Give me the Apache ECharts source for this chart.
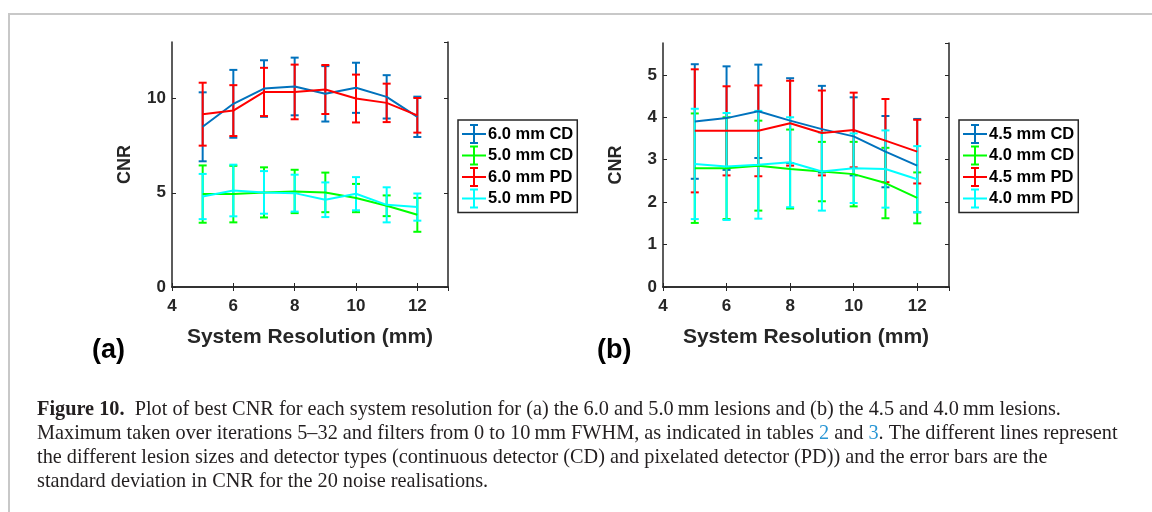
<!DOCTYPE html>
<html>
<head>
<meta charset="utf-8">
<script src="https://cdn.jsdelivr.net/npm/echarts@6/dist/echarts.min.js"></script>
<style>
  html, body { margin: 0; padding: 0; background: #fff; }
  #chart { width: 1152px; height: 512px; }
</style>
</head>
<body>
<div id="chart"></div>
<script>
// system resolution (mm)
var resolution = [5, 6, 7, 8, 9, 10, 11, 12];

// panel (a)
var namesA = ['6.0 mm CD', '5.0 mm CD', '6.0 mm PD', '5.0 mm PD'];
var cd60 = [8.5, 9.72, 10.53, 10.64, 10.25, 10.57, 10.09, 9.03];
var cd60Err = [1.83, 1.8, 1.5, 1.53, 1.47, 1.33, 1.15, 1.07];
var cd50 = [4.93, 4.93, 5.02, 5.07, 5.02, 4.72, 4.31, 3.83];
var cd50Err = [1.52, 1.5, 1.33, 1.15, 1.05, 0.75, 0.55, 0.9];
var pd60 = [9.17, 9.36, 10.35, 10.35, 10.48, 10.0, 9.77, 9.11];
var pd60Err = [1.67, 1.35, 1.28, 1.45, 1.3, 1.27, 1.02, 0.92];
var pd50 = [4.8, 5.12, 5.02, 4.98, 4.63, 4.95, 4.36, 4.24];
var pd50Err = [1.2, 1.37, 1.13, 0.98, 0.92, 0.88, 0.93, 0.72];

// panel (b)
var namesB = ['4.5 mm CD', '4.0 mm CD', '4.5 mm PD', '4.0 mm PD'];
var cd45 = [3.9, 3.98, 4.14, 3.92, 3.72, 3.55, 3.19, 2.86];
var cd45Err = [1.35, 1.22, 1.1, 1.0, 1.02, 0.92, 0.84, 1.1];
var cd40 = [2.8, 2.8, 2.86, 2.78, 2.72, 2.66, 2.45, 2.1];
var cd40Err = [1.29, 1.2, 1.06, 0.93, 0.7, 0.76, 0.83, 0.6];
var pd45 = [3.68, 3.68, 3.68, 3.86, 3.63, 3.7, 3.45, 3.19];
var pd45Err = [1.45, 1.05, 1.07, 1.0, 1.0, 0.88, 0.98, 0.75];
var pd40 = [2.9, 2.84, 2.88, 2.94, 2.72, 2.8, 2.78, 2.54];
var pd40Err = [1.3, 1.26, 1.27, 1.06, 0.92, 0.82, 0.91, 0.78];

var colors = ['#0072BD', '#00ff00', '#ff0000', '#00ffff'];
var axisColor = '#262626';
var font = 'Liberation Sans';

var chart = echarts.init(document.getElementById('chart'));

function errorSeries(name, values, errs, gi, color) {
  var data = [];
  for (var i = 0; i < resolution.length; i++) {
    data.push([resolution[i], values[i], values[i] + errs[i], values[i] - errs[i]]);
  }
  return {
    name: name,
    type: 'custom',
    xAxisIndex: gi,
    yAxisIndex: gi,
    itemStyle: { color: color },
    data: data,
    encode: { x: 0, y: [2, 3] },
    renderItem: function (params, api) {
      var hi = api.coord([api.value(0), api.value(2)]);
      var lo = api.coord([api.value(0), api.value(3)]);
      var c = api.visual('color');
      var cap = 4;
      var st = { stroke: c, lineWidth: 2 };
      return {
        type: 'group',
        children: [
          { type: 'line', shape: { x1: hi[0], y1: hi[1], x2: lo[0], y2: lo[1] }, style: st },
          { type: 'line', shape: { x1: hi[0] - cap, y1: hi[1], x2: hi[0] + cap, y2: hi[1] }, style: st },
          { type: 'line', shape: { x1: lo[0] - cap, y1: lo[1], x2: lo[0] + cap, y2: lo[1] }, style: st }
        ]
      };
    }
  };
}

function lineSeries(name, values, gi, color) {
  var data = [];
  for (var i = 0; i < resolution.length; i++) data.push([resolution[i], values[i]]);
  return {
    name: name,
    type: 'line',
    xAxisIndex: gi,
    yAxisIndex: gi,
    showSymbol: false,
    symbol: 'none',
    itemStyle: { color: color },
    lineStyle: { color: color, width: 2 },
    data: data
  };
}

function xAxis(gi, top) {
  return {
    type: 'value', gridIndex: gi, position: top ? 'top' : 'bottom',
    min: 4, max: 13, interval: 2,
    name: top ? '' : 'System Resolution (mm)',
    nameLocation: 'middle', nameGap: 40,
    nameTextStyle: { fontFamily: font, fontWeight: 'bold', fontSize: 21, color: axisColor },
    axisLine: { show: true, lineStyle: { color: axisColor, width: 1.5 } },
    axisTick: { show: true, inside: true, length: 4, lineStyle: { color: axisColor } },
    axisLabel: { show: !top, showMaxLabel: false, margin: 11, fontFamily: font, fontWeight: 'bold', fontSize: 17, color: axisColor },
    splitLine: { show: false }
  };
}

function yAxis(gi, right, max, interval) {
  return {
    type: 'value', gridIndex: gi, position: right ? 'right' : 'left',
    min: 0, max: max, interval: interval,
    name: right ? '' : 'CNR',
    nameLocation: 'middle', nameRotate: 90, nameGap: 38,
    nameTextStyle: { fontFamily: font, fontWeight: 'bold', fontSize: 18, color: axisColor },
    axisLine: { show: true, lineStyle: { color: axisColor, width: 1.5 } },
    axisTick: { show: true, inside: true, length: 4, lineStyle: { color: axisColor } },
    axisLabel: { show: !right, showMaxLabel: false, margin: 6, fontFamily: font, fontWeight: 'bold', fontSize: 17, color: axisColor },
    splitLine: { show: false }
  };
}

var errIcon = 'path://M0,9H24V11H0Z M11,0H13V20H11Z M8,0H16V2H8Z M8,18H16V20H8Z';

function legend(names, left) {
  return {
    orient: 'vertical',
    left: left, top: 120,
    padding: [4, 4, 4, 4],
    itemWidth: 24, itemHeight: 20, itemGap: 1.5,
    backgroundColor: '#fff',
    borderColor: axisColor, borderWidth: 1.5, borderRadius: 0,
    selectedMode: false,
    itemStyle: { borderWidth: 0 },
    textStyle: { fontFamily: font, fontWeight: 'bold', fontSize: 16.5, color: '#000', padding: [0, 0, 0, -3] },
    data: names.map(function (n) { return { name: n, icon: errIcon }; })
  };
}

var setsA = [[cd60, cd60Err], [cd50, cd50Err], [pd60, pd60Err], [pd50, pd50Err]];
var setsB = [[cd45, cd45Err], [cd40, cd40Err], [pd45, pd45Err], [pd40, pd40Err]];
var series = [];
setsA.forEach(function (s, i) {
  series.push(lineSeries(namesA[i], s[0], 0, colors[i]));
  series.push(errorSeries(namesA[i], s[0], s[1], 0, colors[i]));
});
setsB.forEach(function (s, i) {
  series.push(lineSeries(namesB[i], s[0], 1, colors[i]));
  series.push(errorSeries(namesB[i], s[0], s[1], 1, colors[i]));
});

var capFont = 'Liberation Serif';
var capColor = '#231f20';
var capSize = 20.3;
var capStyle = { fontFamily: capFont, fontSize: capSize, fill: capColor };

var option = {
  animation: false,
  backgroundColor: '#fff',
  grid: [
    { left: 172, top: 42, width: 276, height: 245 },
    { left: 663, top: 43, width: 286, height: 244 }
  ],
  xAxis: [xAxis(0, false), xAxis(1, false), xAxis(0, true), xAxis(1, true)],
  yAxis: [yAxis(0, false, 13, 5), yAxis(1, false, 5.75, 1), yAxis(0, true, 13, 5), yAxis(1, true, 5.75, 1)],
  legend: [legend(namesA, 458), legend(namesB, 959)],
  series: series,
  graphic: [
    { type: 'rect', shape: { x: 9, y: 14, width: 1300, height: 700 }, style: { fill: 'none', stroke: '#c8c8c8', lineWidth: 2 }, silent: true },
    { type: 'text', left: 92, top: 337, style: { text: '(a)', fontFamily: font, fontWeight: 'bold', fontSize: 27, fill: '#000' } },
    { type: 'text', left: 597, top: 337, style: { text: '(b)', fontFamily: font, fontWeight: 'bold', fontSize: 27, fill: '#000' } },
    { type: 'text', left: 37, top: 400, style: {
      text: '{b|Figure 10.}  Plot of best CNR for each system resolution for (a) the 6.0 and 5.0\u2009mm lesions and (b) the 4.5 and 4.0\u2009mm lesions.',
      fontFamily: capFont, fontSize: capSize, fill: capColor,
      rich: { b: { fontFamily: capFont, fontSize: capSize, fontWeight: 'bold', fill: capColor } }
    } },
    { type: 'text', left: 37, top: 424, style: {
      text: 'Maximum taken over iterations 5\u201332 and filters from 0 to 10\u2009mm FWHM, as indicated in tables {l|2} and {l|3}. The different lines represent',
      fontFamily: capFont, fontSize: capSize, fill: capColor,
      rich: { l: { fontFamily: capFont, fontSize: capSize, fill: '#2a96d4' } }
    } },
    { type: 'text', left: 37, top: 448, style: Object.assign({ text: 'the different lesion sizes and detector types (continuous detector (CD) and pixelated detector (PD)) and the error bars are the' }, capStyle) },
    { type: 'text', left: 37, top: 472, style: Object.assign({ text: 'standard deviation in CNR for the 20 noise realisations.' }, capStyle) }
  ]
};

chart.setOption(option);
</script>
</body>
</html>
